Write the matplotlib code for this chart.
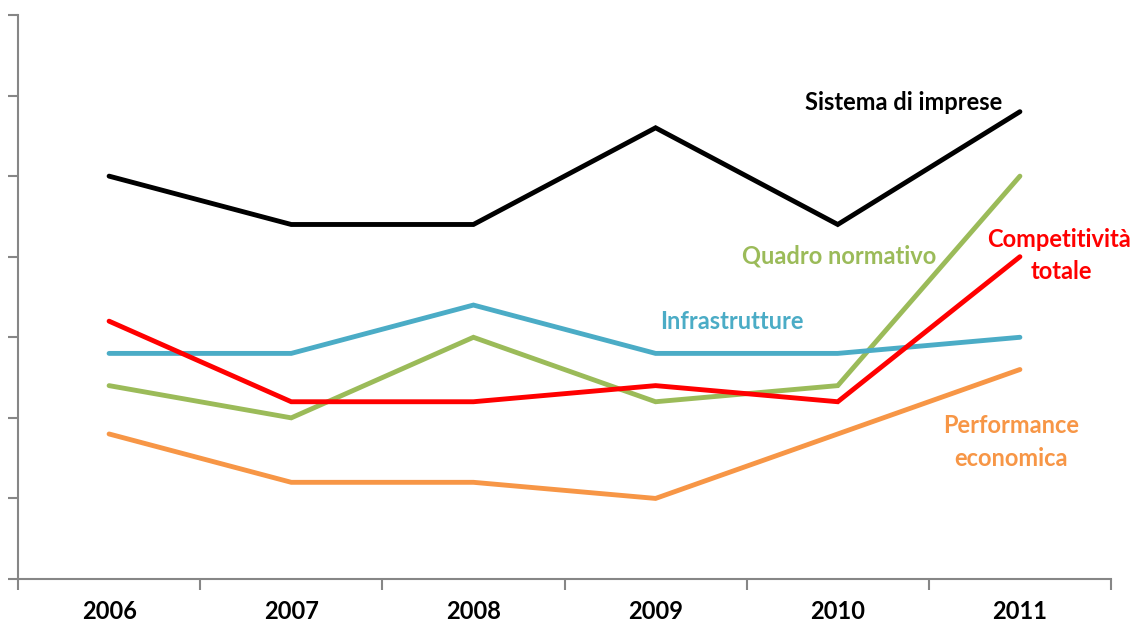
import numpy as np
import matplotlib.pyplot as plt

years = ["2006", "2007", "2008", "2009", "2010", "2011"]

sistema_imprese = [25, 22, 22, 28, 22, 29]
quadro_normativo = [12, 10, 15, 11, 12, 25]
competitivita = [16, 11, 11, 12, 11, 20]
infrastrutture = [14, 14, 17, 14, 14, 15]
performance = [9, 6, 6, 5, 9, 13]

plt.rcParams['font.family'] = ['Lato', 'DejaVu Sans']

fig = plt.figure(figsize=(11.34, 6.23), dpi=100)
ax = fig.add_axes([18/1134, 1 - 579/623, (1111 - 18)/1134, (579 - 15)/623])

x = np.arange(len(years))
lw = 3.5
ax.plot(x, performance, color="#F79646", lw=lw, solid_capstyle="round", solid_joinstyle="miter")
ax.plot(x, quadro_normativo, color="#9BBB59", lw=lw, solid_capstyle="round", solid_joinstyle="miter")
ax.plot(x, infrastrutture, color="#4BACC6", lw=lw, solid_capstyle="round", solid_joinstyle="miter")
ax.plot(x, competitivita, color="#FF0000", lw=lw, solid_capstyle="round", solid_joinstyle="miter")
ax.plot(x, sistema_imprese, color="#000000", lw=lw, solid_capstyle="round", solid_joinstyle="miter")

ax.set_xlim(-0.5, len(years) - 0.5)
ax.set_ylim(0, 35)

# axes in the grey office style: only left and bottom spines
grey = "#868686"
for side in ["top", "right"]:
    ax.spines[side].set_visible(False)
for side in ["left", "bottom"]:
    ax.spines[side].set_color(grey)
    ax.spines[side].set_linewidth(1.5)

ax.set_yticks(np.arange(0, 36, 5))
ax.set_yticklabels([])
ax.tick_params(axis="y", direction="out", length=7, width=1.5, color=grey)

ax.set_xticks(x)
ax.set_xticklabels(years, fontsize=17, fontweight="bold")
ax.tick_params(axis="x", which="major", length=0, pad=15)
ax.set_xticks(np.arange(-0.5, len(years)), minor=True)
ax.tick_params(axis="x", which="minor", direction="out", length=8, width=1.5, color=grey)

# series labels
fs = 17
ax.text(4.36, 29.55, "Sistema di imprese", color="#000000", fontsize=fs,
        fontweight="bold", ha="center", va="center")
ax.text(4.01, 20.05, "Quadro normativo", color="#9BBB59", fontsize=fs,
        fontweight="bold", ha="center", va="center")
ax.text(5.61, 21.04, "Competitività", color="#FF0000", fontsize=fs,
        fontweight="bold", ha="right", va="center")
ax.text(5.23, 19.06, "totale", color="#FF0000", fontsize=fs,
        fontweight="bold", ha="center", va="center")
ax.text(3.42, 16.0, "Infrastrutture", color="#4BACC6", fontsize=fs,
        fontweight="bold", ha="center", va="center")
ax.text(4.95, 9.5, "Performance", color="#F79646", fontsize=fs,
        fontweight="bold", ha="center", va="center")
ax.text(4.95, 7.45, "economica", color="#F79646", fontsize=fs,
        fontweight="bold", ha="center", va="center")

fig.savefig("out.png", dpi=100)
